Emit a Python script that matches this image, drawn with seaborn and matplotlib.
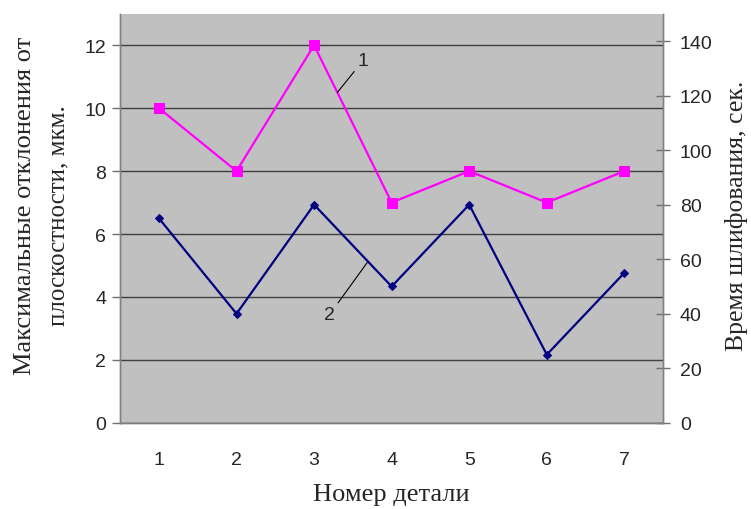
import numpy as np
import pandas as pd
import matplotlib
matplotlib.use('Agg')
import matplotlib.pyplot as plt
import seaborn as sns

# данные
detali = [1, 2, 3, 4, 5, 6, 7]
otklonenie = [10, 8, 12, 7, 8, 7, 8]        # мкм, левая ось
vremya = [75, 40, 80, 50, 80, 25, 55]       # сек., правая ось

df = pd.DataFrame({'detal': detali, 'otkl': otklonenie, 'vremya': vremya})

sns.set_style('white')
plt.rcParams['font.family'] = ['Liberation Sans', 'DejaVu Sans']
serif = ['Liberation Serif', 'DejaVu Serif']

fig = plt.figure(figsize=(7.51, 5.10), dpi=100)
ax = fig.add_axes([0.160, 0.169, 0.723, 0.802])
ax.set_facecolor('#c0c0c0')
ax2 = ax.twinx()

sns.lineplot(data=df, x='detal', y='otkl', ax=ax, color='#ff00ff', marker='s',
             markersize=7, markeredgecolor='#ff00ff', linewidth=1.6)
sns.lineplot(data=df, x='detal', y='vremya', ax=ax2, color='#000080', marker='D',
             markersize=4.5, markeredgecolor='#000080', linewidth=1.6)

ax.set_xlim(0.5, 7.5)
ax.set_ylim(0, 13)
ax2.set_ylim(0, 150)
ax.set_yticks(range(0, 13, 2))
ax2.set_yticks(range(0, 141, 20))
ax.set_xticks(detali)
ax.set_xticks(np.arange(1.5, 7.5, 1), minor=True)
ax.tick_params(axis='x', which='major', length=0, pad=20, labelsize=14)
ax.tick_params(axis='x', which='minor', length=6, width=1, color='#707070', direction='out')
ax.tick_params(axis='y', length=6, width=1, color='#707070', direction='out', labelsize=14, pad=4)
ax2.tick_params(axis='y', length=10, width=1, color='#707070', direction='inout', labelsize=14, pad=7)

ax.grid(axis='y', color='#404040', linewidth=1)
ax.set_axisbelow(True)
for a in (ax, ax2):
    for s in a.spines.values():
        s.set_color('#808080')
        s.set_linewidth(1)
    a.spines['top'].set_visible(False)
ax.set_xlabel('')
ax.set_ylabel('')
ax2.set_ylabel('')

# подписи осей
fig.text(313 / 751, 1 - 495 / 510, 'Номер детали', family=serif, fontsize=19,
         ha='left', va='center')
fig.text(25 / 751, 1 - 206 / 510, 'Максимальные отклонения от', family=serif,
         fontsize=19, rotation=90, ha='center', va='center')
fig.text(58 / 751, 1 - 216 / 510, 'плоскостности, мкм.', family=serif,
         fontsize=18, rotation=90, ha='center', va='center')
fig.text(737 / 751, 1 - 216 / 510, 'Время шлифования, сек.', family=serif,
         fontsize=18.5, rotation=90, ha='center', va='center')

ax.annotate('1', xy=(3.30, 10.5), xytext=(3.56, 11.24), fontsize=14,
            ha='left', va='bottom',
            arrowprops=dict(arrowstyle='-', color='black', lw=0.8, shrinkA=0, shrinkB=0))
ax.annotate('2', xy=(3.69, 5.11), xytext=(3.27, 3.71), fontsize=14,
            ha='right', va='top',
            arrowprops=dict(arrowstyle='-', color='black', lw=0.8, shrinkA=0, shrinkB=0))

fig.savefig('out.png', dpi=100)
